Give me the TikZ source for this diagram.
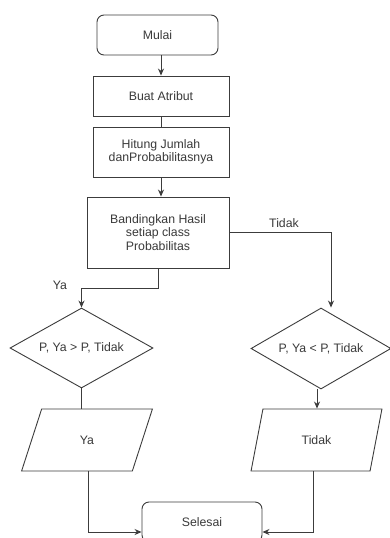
\documentclass[tikz,border=0pt]{standalone}
\usepackage{fontspec}
\setmainfont{Liberation Sans}
\usetikzlibrary{shapes.geometric,arrows.meta}
\definecolor{ln}{HTML}{3C3C3C}
\definecolor{tx}{HTML}{3A3A3A}
\begin{document}
\begin{tikzpicture}[x=1pt,y=-1pt,
  base/.style={draw=ln,line width=0.9pt,text=tx,font=\fontsize{12.3}{13.6}\selectfont,align=center,inner sep=0pt},
  termbox/.style={base,rectangle,rounded corners=7pt},
  procbox/.style={base,rectangle},
  decbox/.style={base,diamond,aspect=1.8},
  iobox/.style={base,trapezium,trapezium left angle=70,trapezium right angle=110,trapezium stretches=true},
  conn/.style={draw=ln,line width=0.9pt},
  arr/.style={conn,-{Stealth[length=7pt,width=6pt]}},
  lbl/.style={text=tx,font=\fontsize{12.3}{13.6}\selectfont,inner sep=0pt}]
\clip (0,0) rectangle (390,538);
\fill[white] (0,0) rectangle (390,538);
\node[termbox,minimum width=121pt,minimum height=40pt] (mulai) at (157.5,35) {Mulai};
\node[procbox,minimum width=136pt,minimum height=40pt] (buat) at (161,96) {Buat Atribut};
\node[procbox,minimum width=136pt,minimum height=50pt] (hitung) at (161,152) {Hitung Jumlah\\danProbabilitasnya};
\node[procbox,minimum width=142pt,minimum height=71pt] (banding) at (158,232.5) {Bandingkan Hasil\\setiap class\\Probabilitas};
\node[decbox,minimum width=143pt,minimum height=80pt] (dya) at (81.5,348) {P, Ya > P, Tidak};
\node[decbox,minimum width=140pt,minimum height=81pt] (dtd) at (321,348.5) {P, Ya < P, Tidak};
\node[iobox,minimum width=131pt,minimum height=62pt] (pya) at (87,440) {Ya};
\node[iobox,minimum width=131pt,minimum height=62pt] (ptd) at (316.5,440) {Tidak};
\node[termbox,minimum width=120pt,minimum height=40pt] (sel) at (202,522) {Selesai};
\node[lbl] (lya) at (60,285) {Ya};
\node[lbl] (ltd) at (284,223) {Tidak};
\draw[arr] (buat.north |- mulai.south) -- (buat.north);
\draw[conn] (buat.south) -- (hitung.north);
\draw[arr] (hitung.south) -- (hitung.south |- banding.north);
\draw[arr] (banding.south) -- ++(0,20) -| (dya.north);
\draw[arr] (banding.east) -| ([xshift=10pt]dtd.north);
\draw[conn] (dya.south) -- (dya.south |- pya.north);
\draw[arr] ([xshift=-4pt]dtd.south) -- ([xshift=-4pt]dtd.south |- ptd.north);
\draw[arr] ([xshift=1pt]pya.south) |- ([yshift=-10pt]sel.west);
\draw[arr] ([xshift=-3.5pt]ptd.south) |- ([yshift=-10pt]sel.east);
\end{tikzpicture}
\end{document}
